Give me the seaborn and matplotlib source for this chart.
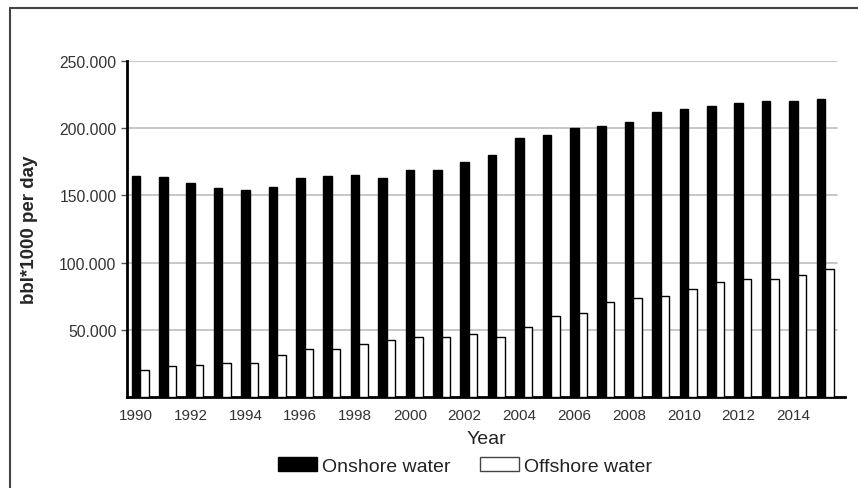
import matplotlib
matplotlib.use("Agg")
import matplotlib.pyplot as plt
from matplotlib.lines import Line2D
from matplotlib.ticker import FuncFormatter
import pandas as pd
import seaborn as sns

years = list(range(1990, 2016))
onshore = [164.7, 163.5, 159.0, 155.3, 154.0, 156.0, 163.0, 164.4, 165.4, 162.7,
           169.0, 169.0, 174.6, 180.0, 192.5, 195.2, 200.1, 201.6, 204.6, 211.8,
           214.3, 216.7, 219.0, 220.2, 220.2, 221.5]
offshore = [20.3, 22.8, 24.0, 25.3, 25.3, 31.5, 35.5, 35.5, 39.7, 42.7,
            44.9, 44.6, 46.9, 44.6, 52.1, 60.0, 62.3, 70.7, 73.4, 75.4,
            80.1, 85.3, 87.5, 87.5, 90.5, 95.2]
series_names = ["Onshore water", "Offshore water"]
tick_years = list(range(1990, 2015, 2))
y_ticks = [50000, 100000, 150000, 200000, 250000]

df = pd.DataFrame({
    "Year": years * 2,
    "value": [v * 1000 for v in onshore] + [v * 1000 for v in offshore],
    "series": [series_names[0]] * len(years) + [series_names[1]] * len(years),
})

sns.set_style("white")
plt.rcParams["font.family"] = ["Liberation Sans", "DejaVu Sans"]

fig = plt.figure(figsize=(8.58, 4.89), dpi=100)
ax = fig.add_axes([0.148, 0.186, 0.837, 0.687])

bar_w = 0.62
sns.barplot(data=df, x="Year", y="value", hue="series",
            palette={series_names[0]: "black", series_names[1]: "white"},
            width=bar_w, dodge=True, ax=ax, legend=False, zorder=3)

for patch in ax.patches:
    patch.set_edgecolor("black")
    patch.set_linewidth(1.0)

ax.set_ylim(0, 250000)
ax.set_xlim(-0.48, len(years) - 0.27)
ax.set_yticks(y_ticks)
ax.yaxis.set_major_formatter(FuncFormatter(lambda v, p: f"{int(v):,}".replace(",", ".")))
for y in y_ticks:
    ax.axhline(y, xmax=0.989, color="#bdbdbd", linewidth=1.2, zorder=0)

# ticks sit under the onshore bar of each even year
offset = bar_w / 4
ax.set_xticks([years.index(y) - offset for y in tick_years])
ax.set_xticklabels([str(y) for y in tick_years])

ax.tick_params(axis="y", labelsize=11.3, colors="#555555", labelcolor="#333333",
               length=4, width=1, left=True)
ax.tick_params(axis="x", labelsize=11, labelcolor="#333333", length=0, pad=8)

for side in ["top", "right"]:
    ax.spines[side].set_visible(False)
ax.spines["left"].set_color("black")
ax.spines["left"].set_linewidth(2)
ax.spines["bottom"].set_color("black")
ax.spines["bottom"].set_linewidth(2)

ax.set_ylabel("bbl*1000 per day", fontsize=13.5, fontweight="bold")
ax.yaxis.set_label_coords(-0.124, 0.5)
ax.set_xlabel("Year", fontsize=14, color="#222222", labelpad=6)

handles = [
    plt.Rectangle((0, 0), 1, 1, facecolor="black", edgecolor="black"),
    plt.Rectangle((0, 0), 1, 1, facecolor="white", edgecolor="#444444"),
]
fig.legend(handles, series_names, loc="center", bbox_to_anchor=(0.542, 0.045),
           ncol=2, frameon=False, fontsize=14, handlelength=2.0, handleheight=0.77,
           handletextpad=0.26, columnspacing=1.5, labelcolor="#222222",
           borderpad=0.2)

# outer frame of the figure (top and left edges visible)
fig.add_artist(Line2D([0.0117, 1.0], [0.982, 0.982], transform=fig.transFigure,
                      color="#444444", linewidth=1.5))
fig.add_artist(Line2D([0.0117, 0.0117], [0.0, 0.982], transform=fig.transFigure,
                      color="#444444", linewidth=1.5))

fig.savefig("out.png", dpi=100)
